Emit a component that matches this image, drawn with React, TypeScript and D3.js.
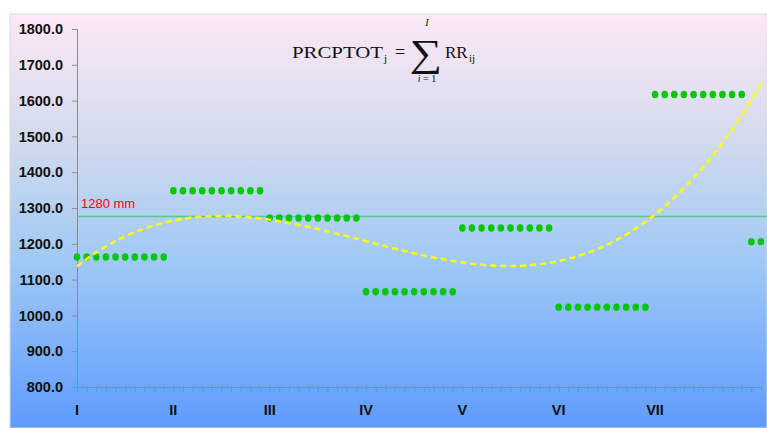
import React, { useEffect, useRef } from 'react';
import * as d3 from 'd3';

// annual totals per station, 10 years per group
const precip: number[] = [
  1163, 1163, 1163, 1163, 1163, 1163, 1163, 1163, 1163, 1163,
  1348, 1348, 1348, 1348, 1348, 1348, 1348, 1348, 1348, 1348,
  1272, 1272, 1272, 1272, 1272, 1272, 1272, 1272, 1272, 1272,
  1066, 1066, 1066, 1066, 1066, 1066, 1066, 1066, 1066, 1066,
  1244, 1244, 1244, 1244, 1244, 1244, 1244, 1244, 1244, 1244,
  1023, 1023, 1023, 1023, 1023, 1023, 1023, 1023, 1023, 1023,
  1617, 1617, 1617, 1617, 1617, 1617, 1617, 1617, 1617, 1617,
  1206, 1206,
];
const groupLabels = ['I', 'II', 'III', 'IV', 'V', 'VI', 'VII'];
const groupStarts = [0, 10, 20, 30, 40, 50, 60];
const yTicks = [800, 900, 1000, 1100, 1200, 1300, 1400, 1500, 1600, 1700, 1800];
const refValue = 1276;
const refLabel = '1280 mm';

// least squares polynomial (like a spreadsheet trendline)
function polyFit(xs: number[], ys: number[], order: number): number[] {
  const n = order + 1;
  const A: number[][] = [];
  for (let r = 0; r < n; r++) {
    const row: number[] = [];
    for (let c = 0; c < n; c++) row.push(d3.sum(xs, x => Math.pow(x, r + c)));
    row.push(d3.sum(xs, (x, i) => ys[i] * Math.pow(x, r)));
    A.push(row);
  }
  for (let i = 0; i < n; i++) {
    let p = i;
    for (let k = i + 1; k < n; k++) if (Math.abs(A[k][i]) > Math.abs(A[p][i])) p = k;
    [A[i], A[p]] = [A[p], A[i]];
    for (let k = i + 1; k < n; k++) {
      const f = A[k][i] / A[i][i];
      for (let c = i; c <= n; c++) A[k][c] -= f * A[i][c];
    }
  }
  const coef = new Array(n).fill(0);
  for (let i = n - 1; i >= 0; i--) {
    let s = A[i][n];
    for (let c = i + 1; c < n; c++) s -= A[i][c] * coef[c];
    coef[i] = s / A[i][i];
  }
  return coef;
}

const App = () => {
  const ref = useRef<SVGSVGElement>(null);

  useEffect(() => {
    const svg = d3.select(ref.current);
    svg.selectAll('*').remove();

    const W = 767, H = 428;
    const x = d3.scaleLinear().domain([0, precip.length - 1]).range([77, 761]);
    const y = d3.scaleLinear().domain([800, 1800]).range([387, 29]);

    const defs = svg.append('defs');
    const grad = defs.append('linearGradient').attr('id', 'bg')
      .attr('x1', 0).attr('y1', 0).attr('x2', 0).attr('y2', 1);
    grad.append('stop').attr('offset', '0%').attr('stop-color', '#fde8f6');
    grad.append('stop').attr('offset', '30%').attr('stop-color', '#d3dbee');
    grad.append('stop').attr('offset', '60%').attr('stop-color', '#9fc9f5');
    grad.append('stop').attr('offset', '100%').attr('stop-color', '#5e9bfd');

    svg.append('rect').attr('x', 10).attr('y', 14).attr('width', W - 10).attr('height', H - 14)
      .attr('fill', 'url(#bg)').attr('stroke', '#d9d9d9').attr('stroke-width', 1);

    // y axis
    const yAxis = svg.append('g').attr('transform', 'translate(77,0)')
      .call(d3.axisLeft(y).tickValues(yTicks).tickFormat(d3.format('.1f')).tickSize(5).tickPadding(9));
    yAxis.select('.domain').attr('stroke', '#8c8c8c');
    yAxis.selectAll('.tick line').attr('stroke', '#8c8c8c');
    yAxis.selectAll('.tick text').attr('fill', '#111').attr('font-size', 14.5)
      .attr('font-weight', 'bold').attr('font-family', 'Liberation Sans, Arial, sans-serif');

    // x axis with a tick per point
    const xAxis = svg.append('g').attr('transform', 'translate(0,387)')
      .call(d3.axisBottom(x).tickValues(d3.range(precip.length)).tickFormat(() => '').tickSize(5).tickSizeOuter(0));
    xAxis.select('.domain').attr('stroke', '#8c8c8c').attr('stroke-width', 1.2);
    xAxis.selectAll('.tick line').attr('stroke', '#8c8c8c');

    svg.append('g').selectAll('text').data(groupLabels).join('text')
      .attr('x', (d, i) => x(groupStarts[i]))
      .attr('y', 415)
      .attr('text-anchor', 'middle')
      .attr('font-size', 14.5).attr('font-weight', 'bold').attr('fill', '#111')
      .attr('font-family', 'Liberation Sans, Arial, sans-serif')
      .text(d => d);

    // reference line
    svg.append('line').attr('x1', 77).attr('x2', W).attr('y1', y(refValue)).attr('y2', y(refValue))
      .attr('stroke', '#5cc391').attr('stroke-width', 1.5);
    svg.append('text').attr('x', 81).attr('y', 208).attr('fill', '#ff0000')
      .attr('font-size', 13).attr('font-family', 'Liberation Sans, Arial, sans-serif')
      .text(refLabel);

    // points
    svg.append('g').selectAll('ellipse').data(precip).join('ellipse')
      .attr('cx', (d, i) => x(i)).attr('cy', d => y(d))
      .attr('rx', 3.3).attr('ry', 3.7).attr('fill', '#00c800');

    // cubic trendline
    const xs = precip.map((d, i) => i + 1);
    const coef = polyFit(xs, precip, 3);
    const f = (t: number) => coef.reduce((s, c, k) => s + c * Math.pow(t, k), 0);
    const trend = d3.range(0, precip.length - 1 + 0.001, 0.25).map(i => [x(i), y(f(i + 1))] as [number, number]);
    svg.append('path').attr('d', d3.line()(trend)).attr('fill', 'none')
      .attr('stroke', '#ffff00').attr('stroke-width', 2.5).attr('stroke-dasharray', '6,4');

    // formula
    const serif = 'Liberation Serif, Times New Roman, serif';
    const fm = svg.append('g').attr('font-family', serif).attr('fill', '#111');
    fm.append('text').attr('x', 292).attr('y', 58).attr('font-size', 17)
      .attr('textLength', 91).attr('lengthAdjust', 'spacingAndGlyphs').text('PRCPTOT');
    fm.append('text').attr('x', 384).attr('y', 62).attr('font-size', 11).text('j');
    fm.append('text').attr('x', 395).attr('y', 58).attr('font-size', 18).text('=');
    fm.append('text').attr('x', 426).attr('y', 66).attr('font-size', 38)
      .attr('text-anchor', 'middle').attr('transform', 'translate(426,0) scale(1.2,1) translate(-426,0)').text('∑');
    fm.append('text').attr('x', 427).attr('y', 26).attr('font-size', 10).attr('font-style', 'italic').attr('text-anchor', 'middle').text('I');
    fm.append('text').attr('x', 427).attr('y', 82).attr('font-size', 10).attr('text-anchor', 'middle')
      .html('<tspan font-style="italic">i</tspan> = 1');
    fm.append('text').attr('x', 445).attr('y', 58).attr('font-size', 17).text('RR');
    fm.append('text').attr('x', 469).attr('y', 62).attr('font-size', 11).text('ij');
  }, []);

  return (
    <svg ref={ref} width={767} height={428}
      style={{ position: 'absolute', left: 0, top: 0, display: 'block' }} />
  );
};

export default App;
